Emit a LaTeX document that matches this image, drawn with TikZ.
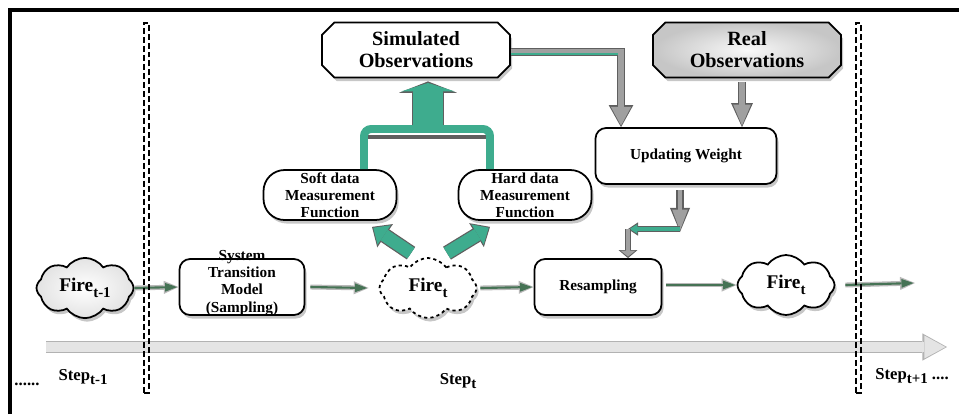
\documentclass[tikz,border=0pt]{standalone}
\usepackage{fontspec}
\setmainfont{Liberation Serif}
\usetikzlibrary{arrows.meta, shapes.misc, shapes.symbols, shadows, calc}
\definecolor{tealgreen}{RGB}{62,172,142}
\definecolor{edgegray}{RGB}{95,95,95}
\definecolor{pipegray}{RGB}{160,160,160}
\definecolor{lineolive}{RGB}{70,115,85}
\definecolor{trackgray}{RGB}{228,228,228}
\newcommand{\lowsub}[1]{\raisebox{-0.6ex}{\fontsize{8.5}{9}\selectfont #1}}
\tikzset{
    boxshadow/.style={drop shadow={shadow xshift=1.2pt, shadow yshift=-2pt, fill=black!55, opacity=0.4}},
    obsbox/.style={chamfered rectangle, chamfered rectangle xsep=4pt, draw, line width=1pt, fill=white, boxshadow,
        minimum width=3.76cm, minimum height=1.1cm, inner sep=1pt, align=center,
        font=\fontsize{11.5}{12.5}\selectfont\bfseries},
    flowbox/.style={rectangle, rounded corners=6pt, draw, line width=1pt, fill=white, boxshadow,
        minimum width=2.5cm, minimum height=1.12cm, inner sep=1pt, align=center,
        font=\fontsize{8.7}{9.7}\selectfont\bfseries},
    funcbox/.style={flowbox, rounded corners=12pt, minimum width=2.66cm, minimum height=1cm},
    firecloud/.style={cloud, cloud puffs=8, cloud puff arc=110, aspect=1.6, draw, line width=1pt, boxshadow,
        minimum width=1.94cm, minimum height=1.2cm, inner sep=1pt,
        font=\fontsize{11}{12}\selectfont\bfseries},
    sepbar/.style={rectangle, draw, line width=0.8pt, dash pattern=on 3.4pt off 1.7pt,
        minimum width=0.1cm, minimum height=7.4cm, inner sep=0pt},
    steplabel/.style={inner sep=1pt, font=\fontsize{9.5}{10}\selectfont\bfseries},
    shell/.style args={#1:#2:#3}{draw=edgegray, line width=#1,
        -{Triangle[length=#2, width=#3, line width=0pt]}},
    core/.style args={#1:#2:#3}{line width=#1, shorten >=0.9pt,
        -{Triangle[length=#2, width=#3, line width=0pt]}},
}
\begin{document}
\begin{tikzpicture}[x=0.02cm, y=-0.02cm]
\useasboundingbox (0,0) rectangle (959,414);
\draw[line width=2.2pt] (10,414) -- (10,10) -- (959,10);

% observations and weights
\node[obsbox] (simobs) at (416,50) {Simulated\\Observations};
\node[obsbox, inner color=gray!5, outer color=gray!45] (realobs) at (747,50) {Real\\Observations};
\node[flowbox, minimum width=3.62cm] (upd) at (686,156) {Updating Weight};
\node[funcbox] (soft) at (330,195) {Soft data\\Measurement\\Function};
\node[funcbox] (hard) at (525,195) {Hard data\\Measurement\\Function};

% one filtering step
\node[firecloud, inner color=white, outer color=gray!22] (firea) at (85,288) {Fire\lowsub{t-1}};
\node[flowbox] (sys) at (242,287)
    {\smash{\begin{tabular}{@{}c@{}}System\\Transition\\Model\\(Sampling)\end{tabular}}};
\node[firecloud, fill=white, dash pattern=on 1.8pt off 1.8pt] (fireb) at (428,288) {Fire\lowsub{t}};
\node[flowbox, minimum width=2.54cm] (resamp) at (598,287) {Resampling};
\node[firecloud, fill=white] (firec) at (786,285) {Fire\lowsub{t}};

\coordinate (nextstep) at (915,283);
\coordinate (trackstart) at (46,347);
\coordinate (trackend) at (947,347);
\coordinate (brk) at (428,129);
\coordinate (pipe) at (621,52);
\coordinate (elbowa) at (680,229);
\coordinate (elbowb) at (628,229);

% time line
\draw[shell=6.8pt:14pt:15.5pt, draw=gray!60] (trackstart) -- (trackend);
\draw[core=5.4pt:12pt:13pt, draw=trackgray] (trackstart) -- (trackend);

% flow along the step
\draw[shell=2.8pt:8.5pt:7.5pt, draw=gray!55] (firea.east) -- (sys.west);
\draw[core=1.2pt:6.8pt:5pt, draw=lineolive] (firea.east) -- (sys.west);
\draw[shell=2.8pt:8.5pt:7.5pt, draw=gray!55] ($(sys.east)+(5,0)$) -- ($(fireb.west)+(-10,0)$);
\draw[core=1.2pt:6.8pt:5pt, draw=lineolive] ($(sys.east)+(5,0)$) -- ($(fireb.west)+(-10,0)$);
\draw[shell=2.8pt:8.5pt:7.5pt, draw=gray!55] ($(fireb.east)+(3,0)$) -- (resamp.west);
\draw[core=1.2pt:6.8pt:5pt, draw=lineolive] ($(fireb.east)+(3,0)$) -- (resamp.west);
\draw[shell=2.8pt:8.5pt:7.5pt, draw=gray!55] ($(resamp.east|-firec.west)+(4,0)$) -- (firec.west);
\draw[core=1.2pt:6.8pt:5pt, draw=lineolive] ($(resamp.east|-firec.west)+(4,0)$) -- (firec.west);
\draw[shell=2.8pt:8.5pt:7.5pt, draw=gray!55] ($(firec.east)+(10,0)$) -- (nextstep);
\draw[core=1.2pt:6.8pt:5pt, draw=lineolive] ($(firec.east)+(10,0)$) -- (nextstep);

% measurement functions
\draw[shell=8.6pt:9pt:16pt] ($(fireb.north)+(-17,-4)$) -- ($(soft.south)+(42,6)$);
\draw[core=7.2pt:7.4pt:13.4pt, draw=tealgreen] ($(fireb.north)+(-17,-4)$) -- ($(soft.south)+(42,6)$);
\draw[shell=8.6pt:9pt:16pt] ($(fireb.north)+(19,-4)$) -- ($(hard.south)+(-35,6)$);
\draw[core=7.2pt:7.4pt:13.4pt, draw=tealgreen] ($(fireb.north)+(19,-4)$) -- ($(hard.south)+(-35,6)$);

\draw[edgegray, line width=2.6pt] ($(brk)+(-60,8)$) -- ($(brk)+(58,8)$);
\draw[tealgreen, line width=4.5pt, rounded corners=4pt]
    ($(soft.north)+(34,0)$) |- (brk) -| ($(hard.north)+(-35,0)$);
\draw[shell=18.5pt:6.5pt:33pt] ($(brk)+(0,-4)$) -- ($(simobs.south-|brk)+(0,3)$);
\draw[core=17pt:4.8pt:30.5pt, draw=tealgreen] ($(brk)+(0,-4)$) -- ($(simobs.south-|brk)+(0,3)$);

% weighting and resampling
\draw[shell=5pt:12.5pt:14pt] (simobs.east|-pipe) -- (pipe) -- (pipe|-upd.north);
\draw[core=3.6pt:10.7pt:11.6pt, draw=pipegray] (simobs.east|-pipe) -- (pipe) -- (pipe|-upd.north);
\draw[tealgreen, line width=1.3pt] ($(simobs.east|-pipe)+(0,2)$) -- ($(pipe)+(-3,2)$);
\draw[shell=4.5pt:13.7pt:12.5pt] ($(realobs.south)+(-5,4)$) -- ($(realobs.south|-upd.north)+(-5,0)$);
\draw[core=3.1pt:11.9pt:10.1pt, draw=pipegray] ($(realobs.south)+(-5,4)$) -- ($(realobs.south|-upd.north)+(-5,0)$);
\draw[shell=4pt:13.7pt:11.4pt] ($(upd.south-|elbowa)+(0,5)$) -- ($(elbowa)+(0,3)$);
\draw[core=2.6pt:11.9pt:9pt, draw=pipegray] ($(upd.south-|elbowa)+(0,5)$) -- ($(elbowa)+(0,3)$);
\draw[shell=3.6pt:5.7pt:7.6pt] (elbowa) -- (elbowb);
\draw[core=2.4pt:4.5pt:5.5pt, draw=tealgreen] (elbowa) -- (elbowb);
\draw[shell=3.6pt:4.6pt:10.8pt] (elbowb) -- (elbowb|-resamp.north);
\draw[core=2.4pt:3.4pt:8.6pt, draw=pipegray] (elbowb) -- (elbowb|-resamp.north);

% step borders
\node[sepbar] (sepa) at (146.5,208) {};
\node[sepbar] (sepb) at (858.5,208) {};

\node[steplabel] (dotsa) at (27,384) {......};
\node[steplabel] (stepa) at (83,377) {Step\lowsub{t-1}};
\node[steplabel] (stepb) at (458,381) {Step\lowsub{t}};
\node[steplabel] (stepc) at (912,376) {Step\lowsub{t+1} ....};
\end{tikzpicture}
\end{document}
